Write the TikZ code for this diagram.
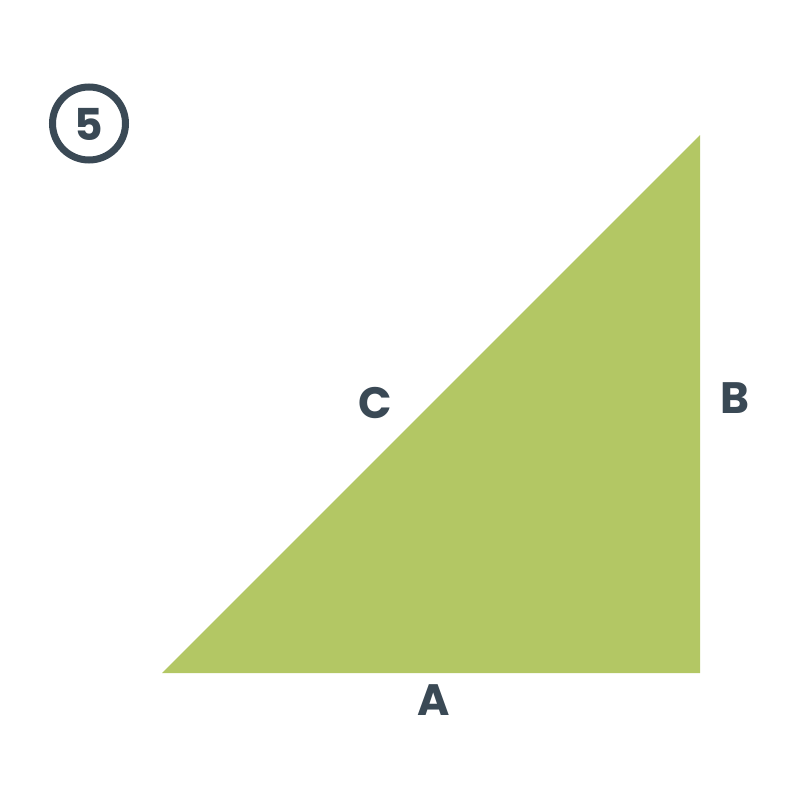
\documentclass[tikz,border=0pt]{standalone}
\usepackage{fontspec}
\setmainfont{Poppins}
\usepackage{tikz}
\definecolor{slate}{HTML}{3A4955}
\definecolor{leaf}{HTML}{B3C764}

\begin{document}
\begin{tikzpicture}[
    x=0.01cm,y=-0.01cm,lbl/.style={text=slate, font=\fontsize{12.5}{14}\selectfont\bfseries, inner sep=0pt}
    ]
    \useasboundingbox (0, 0) rectangle (800, 800);
    \fill[leaf] (162, 673) -- (700, 673) -- (700, 135) -- cycle;
    \draw[slate, line width=0.07cm] (89, 123.5) circle (36.5);
    \node[lbl] (num) at (89, 124) {5};
    \node[lbl] (c) at (375, 403) {C};
    \node[lbl] (b) at (735, 398) {B};
    \node[lbl] (a) at (434, 700) {A};
  \end{tikzpicture}
\end{document}
